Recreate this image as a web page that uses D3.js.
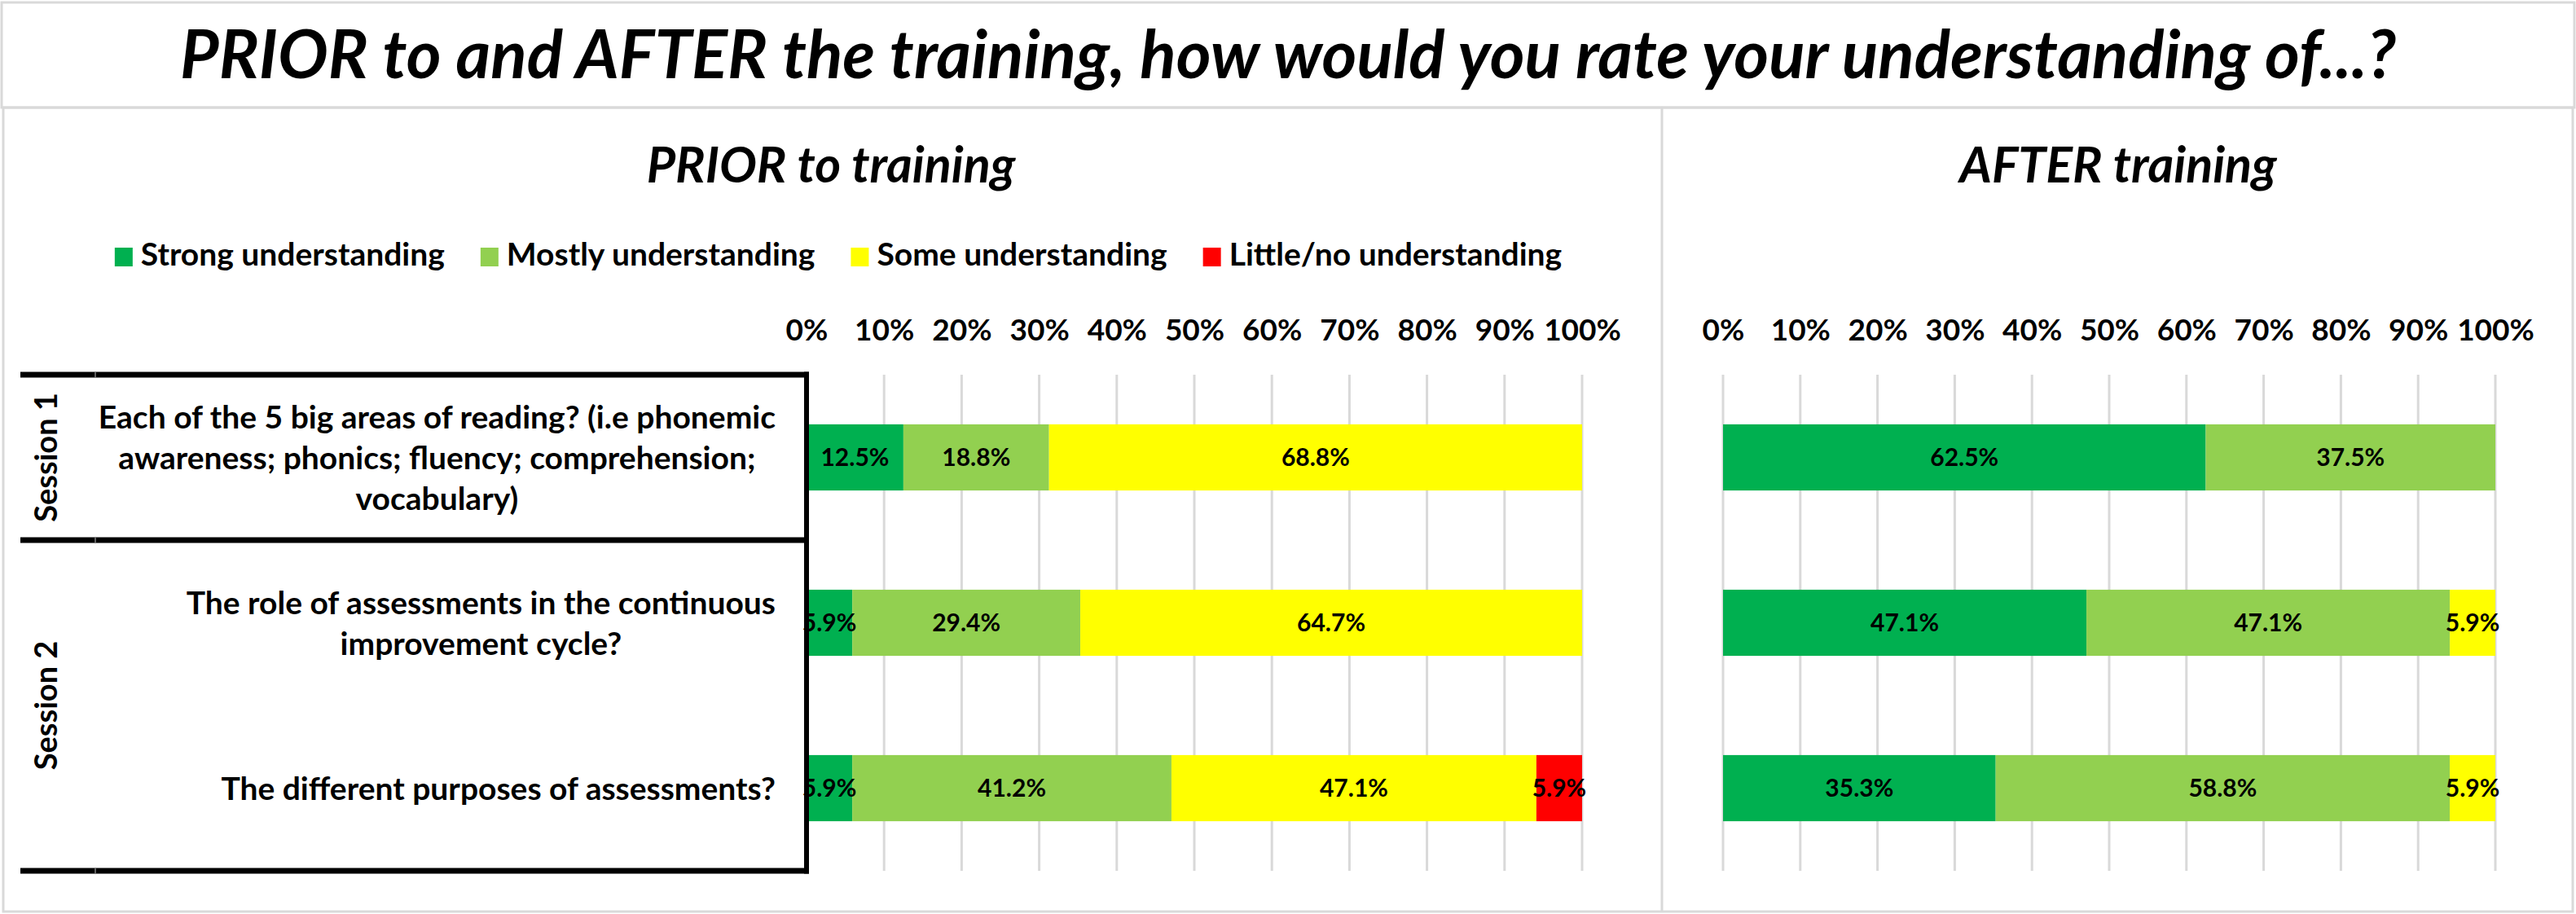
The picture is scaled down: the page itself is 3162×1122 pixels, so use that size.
<!DOCTYPE html>
<html>
<head>
<meta charset="utf-8">
<script src="https://cdn.jsdelivr.net/npm/d3@7"></script>
<style>
  body { margin: 0; background: #fff; }
  text { font-family: Lato, "Liberation Sans", sans-serif; font-weight: bold; fill: #000; }
</style>
</head>
<body>
<script>
var width = 3162, height = 1122;

// questions (one band each) and how their labels wrap
const categories = ["q1", "q2", "q3"];
const categoryLines = [
  ["Each of the 5 big areas of reading? (i.e phonemic", "awareness; phonics; fluency; comprehension;", "vocabulary)"],
  ["The role of assessments in the continuous", "improvement cycle?"],
  ["The different purposes of assessments?"]
];
const sessions = ["Session 1", "Session 2"];
const sessionCategories = [["q1"], ["q2", "q3"]];

const levels = ["Strong understanding", "Mostly understanding", "Some understanding", "Little/no understanding"];
const levelColors = ["#00B050", "#92D050", "#FFFF00", "#FF0000"];

// PRIOR to training (%)
const priorStrong = [12.5, 5.9, 5.9];
const priorMostly = [18.8, 29.4, 41.2];
const priorSome   = [68.8, 64.7, 47.1];
const priorLittle = [0, 0, 5.9];

// AFTER training (%)
const afterStrong = [62.5, 47.1, 35.3];
const afterMostly = [37.5, 47.1, 58.8];
const afterSome   = [0, 5.9, 5.9];
const afterLittle = [0, 0, 0];

const tickValues = [0, 0.1, 0.2, 0.3, 0.4, 0.5, 0.6, 0.7, 0.8, 0.9, 1];

function buildRows(s, m, so, l) {
  return categories.map(function(c, i) {
    var r = {cat: c};
    r[levels[0]] = s[i]; r[levels[1]] = m[i]; r[levels[2]] = so[i]; r[levels[3]] = l[i];
    return r;
  });
}
var priorRows = buildRows(priorStrong, priorMostly, priorSome, priorLittle);
var afterRows = buildRows(afterStrong, afterMostly, afterSome, afterLittle);

var svg = d3.select("body").append("svg")
  .attr("width", width)
  .attr("height", height);

svg.append("rect").attr("width", width).attr("height", height).attr("fill", "#fff");

// frames
svg.append("rect")
  .attr("x", 2).attr("y", 3).attr("width", 3158).attr("height", 129)
  .attr("fill", "none").attr("stroke", "#d9d9d9").attr("stroke-width", 3);
svg.append("rect")
  .attr("x", 4).attr("y", 132).attr("width", 3154).attr("height", 987)
  .attr("fill", "none").attr("stroke", "#d9d9d9").attr("stroke-width", 3);
svg.append("line")
  .attr("x1", 2040).attr("x2", 2040).attr("y1", 132).attr("y2", 1119)
  .attr("stroke", "#d9d9d9").attr("stroke-width", 3);

svg.append("text")
  .attr("x", 1581).attr("y", 96)
  .attr("text-anchor", "middle")
  .style("font-size", "82px").style("font-style", "italic")
  .text("PRIOR to and AFTER the training, how would you rate your understanding of...?");

var y = d3.scaleBand()
  .domain(categories)
  .range([460, 1069])
  .paddingInner(0.6)
  .paddingOuter(0.3);

var xPrior = d3.scaleLinear().domain([0, 1]).range([990, 1942]);
var xAfter = d3.scaleLinear().domain([0, 1]).range([2115, 3063]);

var stack = d3.stack().keys(levels).offset(d3.stackOffsetExpand);
var fmt = function(v) { return d3.format(".1f")(v) + "%"; };

function drawPanel(x, rows, title, titleX) {
  var g = svg.append("g");

  g.append("text")
    .attr("x", titleX).attr("y", 224)
    .attr("text-anchor", "middle")
    .style("font-size", "61px").style("font-style", "italic")
    .text(title);

  // gridlines
  g.selectAll(".grid")
    .data(tickValues)
    .enter().append("line")
      .attr("class", "grid")
      .attr("x1", function(d) { return x(d); })
      .attr("x2", function(d) { return x(d); })
      .attr("y1", y.range()[0])
      .attr("y2", y.range()[1])
      .attr("stroke", "#d9d9d9")
      .attr("stroke-width", 3);

  // percent axis on top
  var axis = g.append("g")
    .attr("transform", "translate(0,418)")
    .call(d3.axisTop(x).tickValues(tickValues).tickFormat(d3.format(".0%")).tickSize(0).tickPadding(0));
  axis.select(".domain").remove();
  axis.attr("font-family", null).attr("font-size", null);
  axis.selectAll("text").style("font-size", "37px").attr("fill", "#000");

  var series = stack(rows);

  var layer = g.selectAll(".layer")
    .data(series)
    .enter().append("g")
      .attr("class", "layer")
      .attr("fill", function(d, i) { return levelColors[i]; });

  layer.selectAll("rect")
    .data(function(d) { return d; })
    .enter().append("rect")
      .attr("x", function(d) { return x(d[0]); })
      .attr("y", function(d) { return y(d.data.cat); })
      .attr("width", function(d) { return x(d[1]) - x(d[0]); })
      .attr("height", y.bandwidth());

  // value labels
  series.forEach(function(s) {
    g.selectAll(null)
      .data(s.filter(function(d) { return d.data[s.key] > 0; }))
      .enter().append("text")
        .attr("x", function(d) { return (x(d[0]) + x(d[1])) / 2; })
        .attr("y", function(d) { return y(d.data.cat) + y.bandwidth() / 2; })
        .attr("dy", "0.36em")
        .attr("text-anchor", "middle")
        .style("font-size", "30px")
        .text(function(d) { return fmt(d.data[s.key]); });
  });
}

drawPanel(xPrior, priorRows, "PRIOR to training", 1020);
drawPanel(xAfter, afterRows, "AFTER training", 2600);

// legend, centred over the left chart
var legend = svg.append("g").attr("transform", "translate(0,304)");
var items = legend.selectAll(".item")
  .data(levels)
  .enter().append("g")
    .attr("class", "item");
items.append("rect")
  .attr("width", 22).attr("height", 23)
  .attr("fill", function(d, i) { return levelColors[i]; });
items.append("text")
  .attr("x", 32).attr("y", 22)
  .style("font-size", "39px")
  .text(function(d) { return d; });
var lx = 0, pos = [];
items.each(function() {
  pos.push(lx);
  lx += 32 + d3.select(this).select("text").node().getComputedTextLength() + 44;
});
var legendStart = 1029 - (lx - 44) / 2;
items.attr("transform", function(d, i) { return "translate(" + (legendStart + pos[i]) + ",0)"; });

// category labels, block right-aligned against the axis
var pad = y.paddingInner() * y.step() / 2;
categories.forEach(function(c, i) {
  var lines = categoryLines[i];
  var cy = y(c) + y.bandwidth() / 2;
  var t = svg.append("g");
  var texts = t.selectAll("text")
    .data(lines)
    .enter().append("text")
      .attr("y", function(d, j) { return cy + (j - (lines.length - 1) / 2) * 50; })
      .attr("dy", "0.36em")
      .attr("text-anchor", "middle")
      .style("font-size", "39px")
      .text(function(d) { return d; });
  var maxW = d3.max(texts.nodes(), function(n) { return n.getComputedTextLength(); });
  texts.attr("x", 952 - maxW / 2);
});

// session brackets
var bounds = [y.range()[0]];
sessionCategories.forEach(function(cats) {
  bounds.push(y(cats[cats.length - 1]) + y.bandwidth() + pad);
});
svg.selectAll(".bracket")
  .data(bounds)
  .enter().append("line")
    .attr("class", "bracket")
    .attr("x1", 25).attr("x2", xPrior(0) + 3)
    .attr("y1", function(d) { return d; })
    .attr("y2", function(d) { return d; })
    .attr("stroke", "#000").attr("stroke-width", 7);
svg.selectAll(".brk")
  .data(bounds)
  .enter().append("line")
    .attr("class", "brk")
    .attr("x1", 117).attr("x2", 117)
    .attr("y1", function(d) { return d - 3.5; })
    .attr("y2", function(d) { return d + 3.5; })
    .attr("stroke", "#7f7f7f").attr("stroke-width", 1.5);
svg.append("line")
  .attr("x1", xPrior(0)).attr("x2", xPrior(0))
  .attr("y1", y.range()[0] - 3.5).attr("y2", y.range()[1] + 3.5)
  .attr("stroke", "#000").attr("stroke-width", 6);

sessions.forEach(function(s, i) {
  var cy = (bounds[i] + bounds[i + 1]) / 2;
  svg.append("text")
    .attr("transform", "translate(70," + cy + ") rotate(-90)")
    .attr("text-anchor", "middle")
    .style("font-size", "38px")
    .text(s);
});
</script>
</body>
</html>
